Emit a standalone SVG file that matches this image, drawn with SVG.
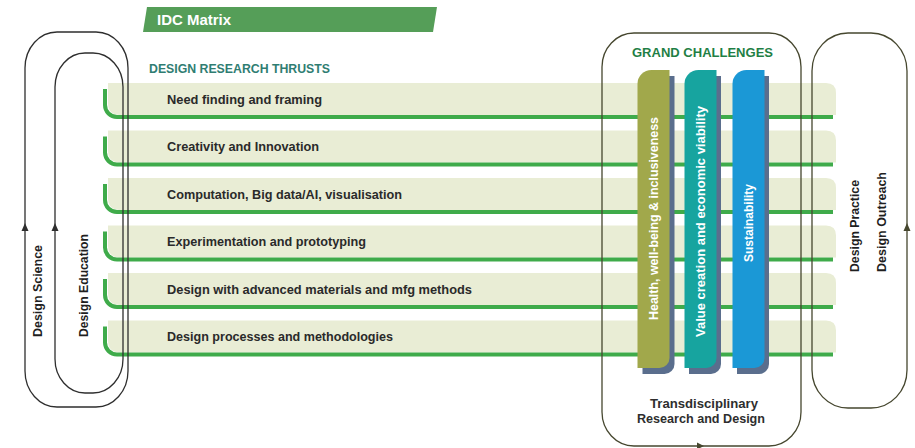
<svg xmlns="http://www.w3.org/2000/svg" xmlns:xlink="http://www.w3.org/1999/xlink" width="915" height="448" viewBox="0 0 915 448">
  <style>
    text { font-family: "Liberation Sans", Arial, sans-serif; font-weight: bold; }
    .row-label { font-size: 12px; fill: #2a2a2a; }
    .side-label { font-size: 12px; fill: #1f1f1f; }
    .pillar-label { font-size: 12px; fill: #ffffff; }
    .band { fill: #e9edd5; }
    .rule { fill: none; stroke: #3fab4a; stroke-width: 4; }
    .loop-dark { fill: none; stroke: #2e2e2e; stroke-width: 1.3; }
    .loop-olive { fill: none; stroke: #46472f; stroke-width: 1.3; }
    .arrow-dark { fill: #2e2e2e; }
    .arrow-olive { fill: #46472f; }
    .shadow { fill: #5a6e8d; }
  </style>
  <defs>
    <!-- one research-thrust row: light band with a green L-shaped rule -->
    <path id="band" d="M108,0 H826 Q836,0 836,10 V32 H120 Q108,32 108,20 Z"/>
    <path id="rule" d="M105,6 V22 A12,12 0 0 0 117,34 H833"/>
    <!-- grand-challenge pillar, 32 wide, drawn from its own left edge -->
    <path id="pillar" d="M0,84 A14,14 0 0 1 14,70 H32 V358 A10,10 0 0 1 22,368 H0 Z"/>
  </defs>

  <!-- title banner -->
  <g id="title">
    <polygon points="147,7 437,7 433,32 143,32" fill="#559e58"/>
    <text x="157" y="25" font-size="14" fill="#ffffff" textLength="74" lengthAdjust="spacingAndGlyphs">IDC Matrix</text>
  </g>

  <g id="thrusts-heading">
    <text x="149" y="73" font-size="12.5" fill="#2f7d72" textLength="181" lengthAdjust="spacingAndGlyphs">DESIGN RESEARCH THRUSTS</text>
  </g>

  <!-- research-thrust rows -->
  <g id="row-1" transform="translate(0,83)">
    <use xlink:href="#band" class="band"/>
    <use xlink:href="#rule" class="rule"/>
    <text class="row-label" x="167" y="20.5" textLength="155" lengthAdjust="spacingAndGlyphs">Need finding and framing</text>
  </g>
  <g id="row-2" transform="translate(0,130.5)">
    <use xlink:href="#band" class="band"/>
    <use xlink:href="#rule" class="rule"/>
    <text class="row-label" x="167" y="20.5" textLength="152" lengthAdjust="spacingAndGlyphs">Creativity and Innovation</text>
  </g>
  <g id="row-3" transform="translate(0,178)">
    <use xlink:href="#band" class="band"/>
    <use xlink:href="#rule" class="rule"/>
    <text class="row-label" x="167" y="20.5" textLength="235" lengthAdjust="spacingAndGlyphs">Computation, Big data/AI, visualisation</text>
  </g>
  <g id="row-4" transform="translate(0,225.5)">
    <use xlink:href="#band" class="band"/>
    <use xlink:href="#rule" class="rule"/>
    <text class="row-label" x="167" y="20.5" textLength="199" lengthAdjust="spacingAndGlyphs">Experimentation and prototyping</text>
  </g>
  <g id="row-5" transform="translate(0,273)">
    <use xlink:href="#band" class="band"/>
    <use xlink:href="#rule" class="rule"/>
    <text class="row-label" x="167" y="20.5" textLength="305" lengthAdjust="spacingAndGlyphs">Design with advanced materials and mfg methods</text>
  </g>
  <g id="row-6" transform="translate(0,320.5)">
    <use xlink:href="#band" class="band"/>
    <use xlink:href="#rule" class="rule"/>
    <text class="row-label" x="167" y="20.5" textLength="226" lengthAdjust="spacingAndGlyphs">Design processes and methodologies</text>
  </g>

  <!-- loops -->
  <g id="connectors">
    <rect class="loop-dark" x="25" y="32" width="103" height="375" rx="32" ry="36"/>
    <rect class="loop-dark" x="55" y="53" width="68" height="340" rx="30" ry="34"/>
    <polygon class="arrow-dark" points="25,223 21.5,231 28.5,231"/>
    <polygon class="arrow-dark" points="55,223 51.5,231 58.5,231"/>

    <rect class="loop-olive" x="602" y="33" width="199" height="413" rx="32" ry="34"/>
    <polygon class="arrow-olive" points="704,446 697,442.5 697,449.5"/>

    <rect class="loop-olive" x="812" y="33" width="95" height="375" rx="36" ry="38"/>
    <polygon class="arrow-olive" points="907,223 903.5,231 910.5,231"/>
  </g>

  <g id="design-science">
    <text class="side-label" transform="translate(42,337) rotate(-90)" textLength="92" lengthAdjust="spacingAndGlyphs">Design Science</text>
  </g>
  <g id="design-education">
    <text class="side-label" transform="translate(88,337) rotate(-90)" textLength="103" lengthAdjust="spacingAndGlyphs">Design Education</text>
  </g>
  <g id="design-practice">
    <text class="side-label" transform="translate(859,272) rotate(-90)" textLength="92" lengthAdjust="spacingAndGlyphs">Design Practice</text>
  </g>
  <g id="design-outreach">
    <text class="side-label" transform="translate(886,272) rotate(-90)" textLength="100" lengthAdjust="spacingAndGlyphs">Design Outreach</text>
  </g>

  <!-- grand challenges -->
  <g id="grand-challenges">
    <text x="702.5" y="57" font-size="13" fill="#1f7f45" text-anchor="middle" textLength="141" lengthAdjust="spacingAndGlyphs">GRAND CHALLENGES</text>
  </g>

  <g id="pillar-health">
    <use xlink:href="#pillar" class="shadow" transform="translate(642.5,6)"/>
    <use xlink:href="#pillar" fill="#a1a84b" transform="translate(637.5,0)"/>
    <text class="pillar-label" transform="translate(658,320) rotate(-90)" textLength="203" lengthAdjust="spacingAndGlyphs">Health, well-being &amp; inclusiveness</text>
  </g>
  <g id="pillar-value">
    <use xlink:href="#pillar" class="shadow" transform="translate(689,6)"/>
    <use xlink:href="#pillar" fill="#17a49f" transform="translate(684.5,0)"/>
    <text class="pillar-label" transform="translate(705,337) rotate(-90)" textLength="231" lengthAdjust="spacingAndGlyphs">Value creation and economic viability</text>
  </g>
  <g id="pillar-sustainability">
    <use xlink:href="#pillar" class="shadow" transform="translate(737,6)"/>
    <use xlink:href="#pillar" fill="#1b98d6" transform="translate(732.5,0)"/>
    <text class="pillar-label" transform="translate(753,262) rotate(-90)" textLength="78" lengthAdjust="spacingAndGlyphs">Sustainability</text>
  </g>

  <g id="transdisciplinary">
    <text x="704" y="408" font-size="12" fill="#2e2e2e" text-anchor="middle" textLength="108" lengthAdjust="spacingAndGlyphs">Transdisciplinary</text>
    <text x="701" y="423" font-size="12" fill="#2e2e2e" text-anchor="middle" textLength="128" lengthAdjust="spacingAndGlyphs">Research and Design</text>
  </g>
</svg>
